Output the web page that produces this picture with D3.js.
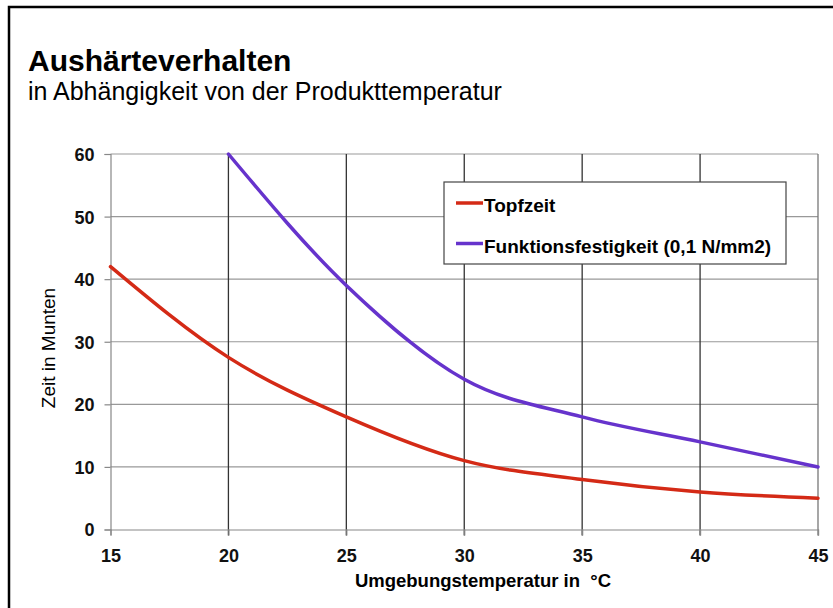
<!DOCTYPE HTML>
<html>
<head>
    <meta charset="UTF-8">
    <title>Aushärteverhalten</title>
    <style>
        body { margin: 0; background: #fff; }
        svg { display: block; font-family: "Liberation Sans", Arial, sans-serif; }
    </style>
    <script src="https://cdnjs.cloudflare.com/ajax/libs/d3/7.8.5/d3.min.js"></script>
</head>
<body>
<svg id="chart" width="833" height="608"></svg>
<script>
    // Werte
    var temps = [15, 20, 25, 30, 35, 40, 45];
    var topfzeit = [42, 27.5, 18, 11, 8, 6, 5];
    var festTemps = [20, 25, 30, 35, 40, 45];
    var festigkeit = [60, 39, 24, 18, 14, 10];
    var xTicks = [15, 20, 25, 30, 35, 40, 45];
    var yTicks = [0, 10, 20, 30, 40, 50, 60];
    var seriesNames = ["Topfzeit", "Funktionsfestigkeit (0,1 N/mm2)"];
    var seriesColors = ["#d42a16", "#6633cc"];

    var svg = d3.select("#chart");
    var pLeft = 110.5, pRight = 818, pTop = 154, pBottom = 529.5;

    var x = d3.scaleLinear().domain([15, 45]).range([pLeft, pRight]);
    var y = d3.scaleLinear().domain([0, 60]).range([pBottom, pTop]);

    // Rahmen
    svg.append("rect")
        .attr("x", 9).attr("y", 7)
        .attr("width", 840).attr("height", 620)
        .attr("fill", "none").attr("stroke", "#000").attr("stroke-width", 2.5);

    svg.append("text").attr("x", 28).attr("y", 71)
        .style("font-size", "30px").style("font-weight", "bold")
        .text("Aushärteverhalten");
    svg.append("text").attr("x", 28).attr("y", 100)
        .style("font-size", "25px")
        .text("in Abhängigkeit von der Produkttemperatur");

    // Gitter
    svg.append("g").selectAll("line").data(yTicks.slice(1)).enter().append("line")
        .attr("x1", pLeft).attr("x2", pRight)
        .attr("y1", function (d) { return y(d); })
        .attr("y2", function (d) { return y(d); })
        .attr("stroke", "#999").attr("stroke-width", 1.2);
    svg.append("g").selectAll("line").data(xTicks.slice(1)).enter().append("line")
        .attr("y1", pTop).attr("y2", pBottom + 6)
        .attr("x1", function (d) { return x(d); })
        .attr("x2", function (d) { return x(d); })
        .attr("stroke", function (d) { return d === 45 ? "#777" : "#333"; })
        .attr("stroke-width", 1.3);

    // Achsen
    var yAxis = svg.append("g").attr("transform", "translate(" + pLeft + ",0)")
        .call(d3.axisLeft(y).tickValues(yTicks).tickSize(6).tickPadding(10));
    var xAxis = svg.append("g").attr("transform", "translate(0," + pBottom + ")")
        .call(d3.axisBottom(x).tickValues(xTicks).tickSize(6).tickPadding(14));
    [xAxis, yAxis].forEach(function (g) {
        g.select(".domain").attr("stroke", "#888").attr("stroke-width", 1.2);
        g.selectAll(".tick line").attr("stroke", "#888").attr("stroke-width", 1.2);
        g.selectAll("text").style("font-size", "18px").style("font-weight", "bold")
            .style("font-family", "Liberation Sans, Arial, sans-serif").attr("fill", "#111");
    });
    yAxis.selectAll("text").attr("dy", "0.36em");

    svg.append("text").attr("x", 483).attr("y", 587).attr("text-anchor", "middle")
        .style("font-size", "18.5px").style("font-weight", "bold")
        .style("white-space", "pre")
        .text("Umgebungstemperatur in  °C");
    svg.append("text").attr("transform", "translate(55,348) rotate(-90)")
        .attr("text-anchor", "middle").style("font-size", "19px")
        .text("Zeit in Munten");

    // Kurven
    var line = d3.line()
        .x(function (d) { return x(d[0]); })
        .y(function (d) { return y(d[1]); })
        .curve(d3.curveMonotoneX);

    var data = [d3.zip(temps, topfzeit), d3.zip(festTemps, festigkeit)];
    svg.append("g").selectAll("path").data(data).enter().append("path")
        .attr("d", line)
        .attr("fill", "none")
        .attr("stroke", function (d, i) { return seriesColors[i]; })
        .attr("stroke-width", 3.5)
        .attr("stroke-linecap", "round");

    // Legende
    var lg = svg.append("g");
    lg.append("rect").attr("x", 444).attr("y", 182).attr("width", 342).attr("height", 82)
        .attr("fill", "#fff").attr("stroke", "#444").attr("stroke-width", 1.2);
    var item = lg.selectAll("g.item").data(seriesNames).enter().append("g")
        .attr("transform", function (d, i) { return "translate(0," + (203 + i * 40.5) + ")"; });
    item.append("line").attr("x1", 456).attr("x2", 483)
        .attr("stroke", function (d, i) { return seriesColors[i]; })
        .attr("stroke-width", 3.5);
    item.append("text").attr("x", 484).attr("y", 9)
        .style("font-size", "19px").style("font-weight", "bold")
        .text(function (d) { return d; });
</script>
</body>
</html>
